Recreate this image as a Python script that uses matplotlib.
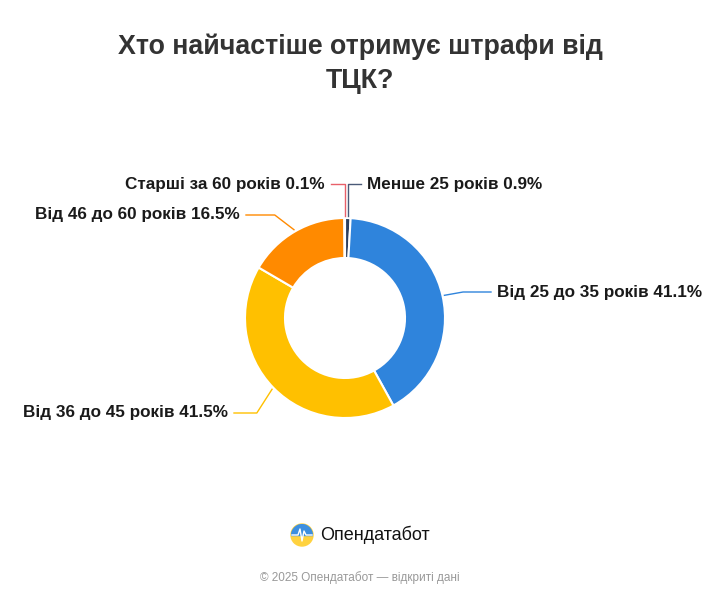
import numpy as np
import matplotlib.pyplot as plt
from matplotlib.patches import Circle

labels = ['Менше 25 років', 'Від 25 до 35 років', 'Від 36 до 45 років',
          'Від 46 до 60 років', 'Старші за 60 років']
values = [0.9, 41.1, 41.5, 16.5, 0.1]
colors = ['#2c3e5c', '#2f84dc', '#ffc000', '#ff8a00', '#e8606a']
line_colors = ['#4a5a78', '#2f84dc', '#ffc000', '#ff8a00', '#e8606a']

# label anchor (x, y from top), horizontal alignment
label_pos = [(367, 184, 'left'), (497, 292, 'left'), (228, 413, 'right'),
             (240, 215, 'right'), (325, 184, 'right')]

FONT = 'Liberation Sans'
W, H = 720, 600
fig = plt.figure(figsize=(7.2, 6), dpi=100)
fig.patch.set_facecolor('white')
ax = fig.add_axes([0, 0, 1, 1])

cx, cy, r = 345, H - 318, 100
wedges, _ = ax.pie(values, colors=colors, startangle=90, counterclock=False,
                   center=(cx, cy), radius=r, frame=True,
                   wedgeprops=dict(width=40, edgecolor='white', linewidth=1.5))
ax.set_xlim(0, W)
ax.set_ylim(0, H)
ax.set_aspect('equal')
ax.axis('off')

for w, lab, v, (lx, ly, ha), lc in zip(wedges, labels, values, label_pos, line_colors):
    ang = np.deg2rad((w.theta1 + w.theta2) / 2)
    x0, y0 = cx + (r + 2) * np.cos(ang), cy + (r + 2) * np.sin(ang)
    ty = H - ly
    tx = lx - 6 if ha == 'left' else lx + 6
    if abs(np.cos(ang)) < 0.1:
        xs = [x0, x0, tx]
    else:
        xs = [x0, x0 + (tx - x0) * 0.4, tx]
    ax.plot(xs, [y0, ty, ty], color=lc, lw=1)
    ax.text(lx, ty, f'{lab} {v}%', ha=ha, va='center', fontsize=12.3,
            fontweight='bold', color='#1a1a1a', family=FONT)

fig.text(0.5, 1 - 64 / H, 'Хто найчастіше отримує штрафи від\nТЦК?', ha='center',
         va='center', fontsize=19.3, fontweight='bold', color='#333333',
         family=FONT, linespacing=1.4)

# logo
circ = Circle((302, H - 535), 11, color='#ffd23f')
ax.add_patch(circ)
top = plt.Rectangle((291, H - 535), 22, 11, color='#3d8fe0')
ax.add_patch(top)
top.set_clip_path(circ)
ax.plot([292, 298, 300, 302, 304, 306, 312],
        [H - 535, H - 535, H - 529, H - 541, H - 531, H - 535, H - 535],
        color='white', lw=1)
ax.text(320, H - 535, 'Опендатабот', ha='left', va='center', fontsize=13,
        color='#111111', family=FONT)
fig.text(0.5, 1 - 578 / H, '© 2025 Опендатабот — відкриті дані', ha='center',
         va='center', fontsize=8.5, color='#999999', family=FONT)

fig.savefig('out.png', dpi=100, facecolor='white')
